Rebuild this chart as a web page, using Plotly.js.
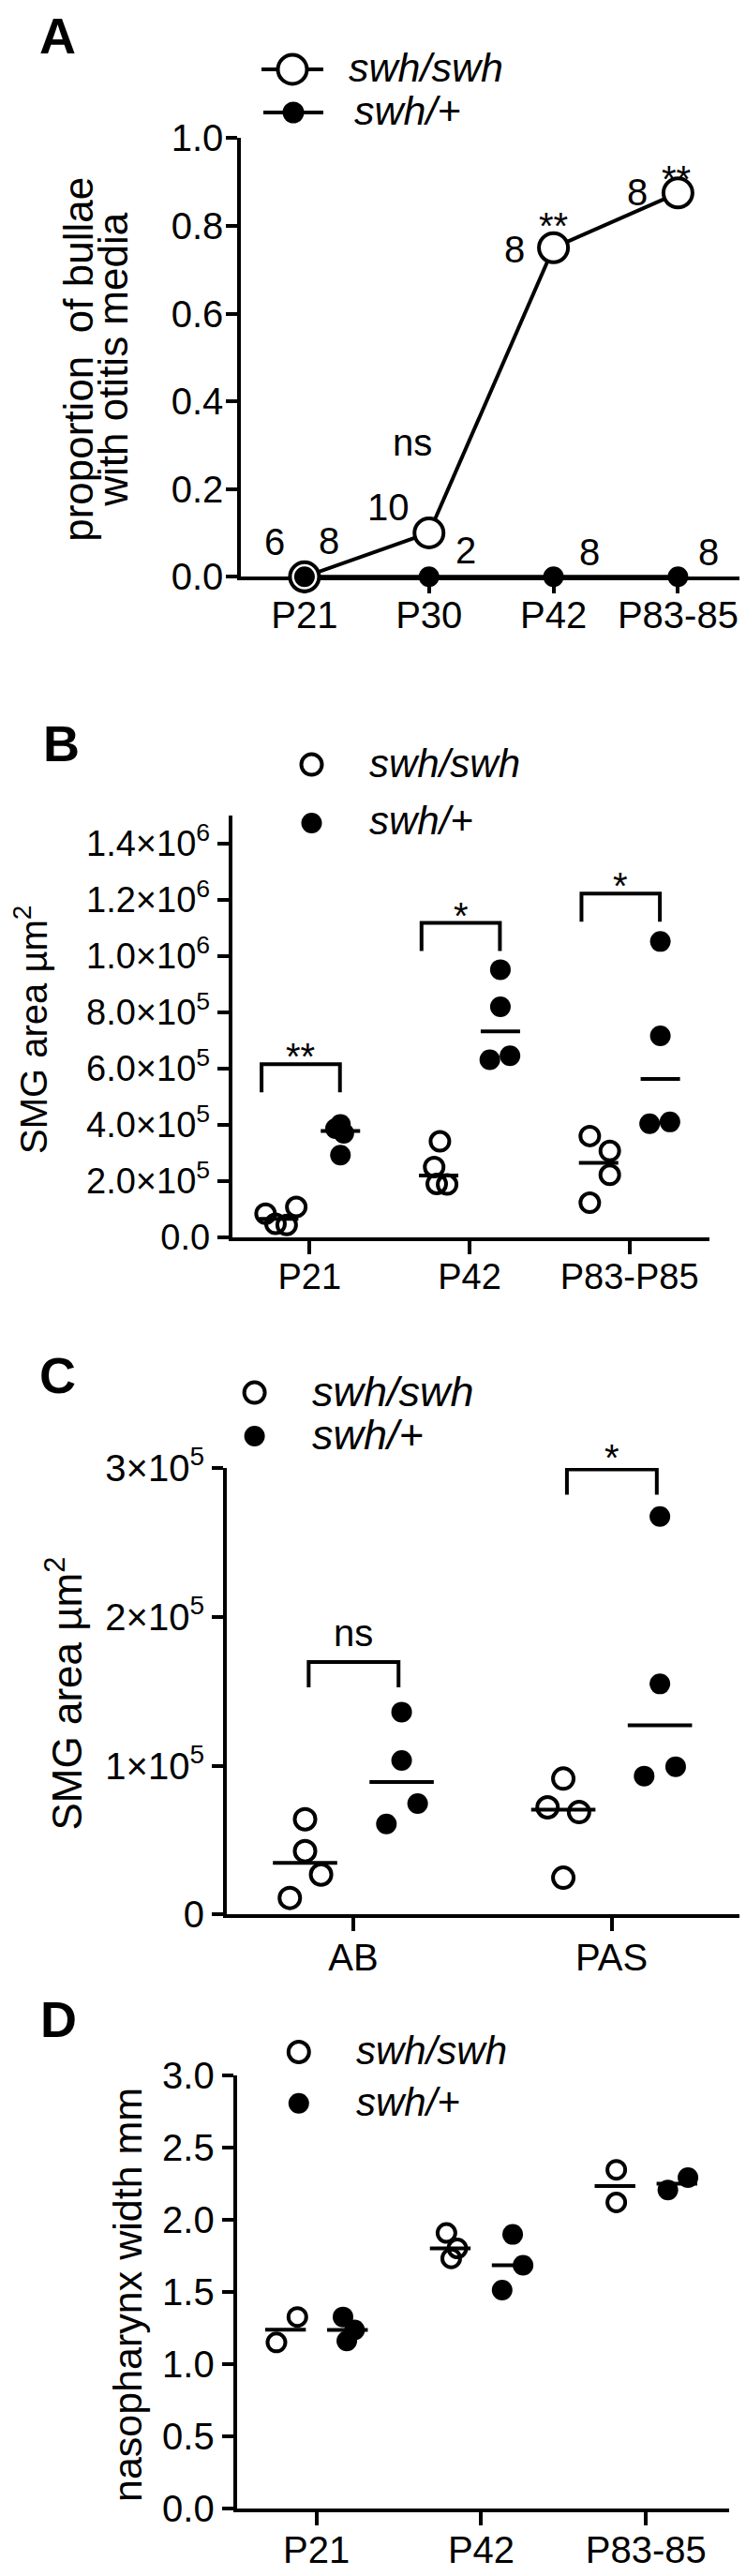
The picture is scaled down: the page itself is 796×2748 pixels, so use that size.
<!DOCTYPE html>
<html><head><meta charset="utf-8">
<script src="https://cdn.plot.ly/plotly-3.0.1.min.js"></script>
<style>html,body{margin:0;padding:0;background:#fff}#chart{width:796px;height:2748px}</style>
</head><body><div id="chart"></div>
<script>
// ================= DATA =================
// Panel A : proportion of bullae with otitis media
const catsA = ['P21', 'P30', 'P42', 'P83-85'];
const omSwhSwh = [0, 0.1, 0.75, 0.875];
const omSwhHet = [0, 0, 0, 0];
const nSwhSwh = [6, 10, 8, 8];
const nSwhHet = [8, 2, 8, 8];
const sigA = ['', 'ns', '**', '**'];
const yTickValsA = [0, 0.2, 0.4, 0.6, 0.8, 1.0];
const yTickTextA = ['0.0', '0.2', '0.4', '0.6', '0.8', '1.0'];

// Panel B : SMG area (um^2) by age
const catsB = ['P21', 'P42', 'P83-P85'];
const smgB_swhSwh = [[84000, 108000, 48000, 44000], [341000, 250000, 190000, 188000], [360000, 307000, 222000, 123000]];
const smgB_swhHet = [[401000, 386000, 370000, 292000], [951000, 819000, 631000, 645000], [1051000, 716000, 404000, 410000]];
const sigB = ['**', '*', '*'];
const yTickValsB = [0, 2e5, 4e5, 6e5, 8e5, 1e6, 1.2e6, 1.4e6];
const yTickTextB = ['0.0', '2.0×10<sup>5</sup>', '4.0×10<sup>5</sup>', '6.0×10<sup>5</sup>', '8.0×10<sup>5</sup>',
                    '1.0×10<sup>6</sup>', '1.2×10<sup>6</sup>', '1.4×10<sup>6</sup>'];

// Panel C : SMG area (um^2) by stain
const catsC = ['AB', 'PAS'];
const smgC_swhSwh = [[64000, 42600, 26800, 11100], [91300, 72000, 68800, 24700]];
const smgC_swhHet = [[136000, 103500, 74500, 60800], [267400, 154900, 99300, 93000]];
const sigC = ['ns', '*'];
const yTickValsC = [0, 1e5, 2e5, 3e5];
const yTickTextC = ['0', '1×10<sup>5</sup>', '2×10<sup>5</sup>', '3×10<sup>5</sup>'];

// Panel D : nasopharynx width (mm)
const catsD = ['P21', 'P42', 'P83-85'];
const npD_swhSwh = [[1.149, 1.326], [1.908, 1.801, 1.732], [2.346, 2.120]];
const npD_swhHet = [[1.326, 1.236, 1.160], [1.898, 1.684, 1.512], [2.206, 2.292]];
const yTickValsD = [0, 0.5, 1.0, 1.5, 2.0, 2.5, 3.0];
const yTickTextD = ['0.0', '0.5', '1.0', '1.5', '2.0', '2.5', '3.0'];

// ================= LAYOUT HELPERS (positions / styles) =================
const W = 796, H = 2748;
const FONT = 'Liberation Sans, Arial, Helvetica, sans-serif';
const PX = x => x / W;
const PY = y => 1 - y / H;
const BLACK = '#000';

// horizontal scatter of each point within its group (category units)
const jitB_swhSwh = [[-0.082, 0.11, -0.02, 0.05], [0.008, -0.028, -0.012, 0.053], [-0.055, 0.07, 0.07, -0.055]];
const jitB_swhHet = [[0, -0.031, 0.021, 0], [0, 0, -0.066, 0.06], [0, 0, -0.067, 0.06]];
const jitC_swhSwh = [[0, 0, 0.062, -0.059], [0, -0.061, 0.061, 0]];
const jitC_swhHet = [[0, 0, 0.062, -0.059], [0, 0, 0.061, -0.061]];
const jitD_swhSwh = [[-0.055, 0.072], [-0.023, 0.043, 0.006], [0.008, 0.008]];
const jitD_swhHet = [[-0.027, 0.043, -0.004], [0.003, 0.066, -0.061], [-0.055, 0.067]];

function median(a) {
  const s = a.slice().sort((p, q) => p - q), m = s.length >> 1;
  return s.length % 2 ? s[m] : (s[m - 1] + s[m]) / 2;
}

function xax(d0, d1, range, cats, anchor, standoff, fsize) {
  return {domain: [PX(d0), PX(d1)], range: range, anchor: anchor,
    tickmode: 'array', tickvals: cats.map((_, i) => i), ticktext: cats,
    showline: true, linewidth: 4, linecolor: BLACK, ticks: 'outside', ticklen: 14, tickwidth: 4, tickcolor: BLACK,
    ticklabelstandoff: standoff,
    showgrid: false, zeroline: false, layer: 'below traces', fixedrange: true,
    tickfont: {family: FONT, size: fsize, color: BLACK}};
}
function yax(top, bottom, range, vals, text, anchor, standoff, fsize) {
  return {domain: [PY(bottom), PY(top)], range: range, anchor: anchor,
    tickmode: 'array', tickvals: vals, ticktext: text,
    showline: true, linewidth: 4, linecolor: BLACK, ticks: 'outside', ticklen: 12, tickwidth: 4, tickcolor: BLACK,
    ticklabelstandoff: standoff,
    showgrid: false, zeroline: false, layer: 'below traces', fixedrange: true,
    tickfont: {family: FONT, size: fsize, color: BLACK}};
}

const traces = [];
const annotations = [];
const shapes = [];

// ---------- Panel A ----------
const xA = catsA.map((_, i) => i);
traces.push({x: xA, y: omSwhHet, xaxis: 'x', yaxis: 'y', mode: 'lines', cliponaxis: false,
  line: {color: BLACK, width: 4}, showlegend: false, hoverinfo: 'skip'});
traces.push({x: xA, y: omSwhSwh, xaxis: 'x', yaxis: 'y', mode: 'lines+markers', cliponaxis: false,
  line: {color: BLACK, width: 4}, marker: {symbol: 'circle', size: 31, color: '#fff', line: {color: BLACK, width: 4}},
  showlegend: false, hoverinfo: 'skip'});
traces.push({x: xA, y: omSwhHet, xaxis: 'x', yaxis: 'y', mode: 'markers', cliponaxis: false,
  marker: {symbol: 'circle', size: 22, color: BLACK}, showlegend: false, hoverinfo: 'skip'});

const nShiftSwh = [[-32, 37], [-43, 28], [-42, -2], [-43, 1]];
const nShiftHet = [[26, 38], [39, 28], [38, 26], [33, 26]];
const sigShiftA = [[0, 0], [-18, 97], [0, 23], [-2, 15]];
catsA.forEach((c, i) => {
  annotations.push({xref: 'x', yref: 'y', x: i, y: omSwhSwh[i], text: String(nSwhSwh[i]), showarrow: false,
    xshift: nShiftSwh[i][0], yshift: nShiftSwh[i][1], font: {family: FONT, size: 40, color: BLACK}});
  annotations.push({xref: 'x', yref: 'y', x: i, y: omSwhHet[i], text: String(nSwhHet[i]), showarrow: false,
    xshift: nShiftHet[i][0], yshift: nShiftHet[i][1], font: {family: FONT, size: 40, color: BLACK}});
  if (sigA[i]) annotations.push({xref: 'x', yref: 'y', x: i, y: omSwhSwh[i], text: sigA[i], showarrow: false,
    xshift: sigShiftA[i][0], yshift: sigShiftA[i][1], font: {family: FONT, size: 40, color: BLACK}});
});

// ---------- dot-plot panels (points + median lines) ----------
function dotPanel(ax, cats, swh, het, jSwh, jHet, off, openSize, medSize) {
  const xs = [], ys = [], xh = [], yh = [];
  cats.forEach((c, i) => {
    swh[i].forEach((v, k) => { xs.push(i - off + jSwh[i][k]); ys.push(v); });
    het[i].forEach((v, k) => { xh.push(i + off + jHet[i][k]); yh.push(v); });
  });
  const xa = 'x' + ax, ya = 'y' + ax;
  traces.push({x: xs, y: ys, xaxis: xa, yaxis: ya, mode: 'markers', cliponaxis: false, showlegend: false, hoverinfo: 'skip',
    name: 'swh/swh', marker: {symbol: 'circle-open', size: openSize, color: BLACK, line: {color: BLACK, width: 4}}});
  traces.push({x: xh, y: yh, xaxis: xa, yaxis: ya, mode: 'markers', cliponaxis: false, showlegend: false, hoverinfo: 'skip',
    name: 'swh/+', marker: {symbol: 'circle', size: 22, color: BLACK, line: {width: 0}}});
  traces.push({x: cats.map((_, i) => i - off), y: swh.map(median), xaxis: xa, yaxis: ya, mode: 'markers', cliponaxis: false,
    showlegend: false, hoverinfo: 'skip', marker: {symbol: 'line-ew', size: medSize, color: BLACK, line: {color: BLACK, width: 4}}});
  traces.push({x: cats.map((_, i) => i + off), y: het.map(median), xaxis: xa, yaxis: ya, mode: 'markers', cliponaxis: false,
    showlegend: false, hoverinfo: 'skip', marker: {symbol: 'line-ew', size: medSize, color: BLACK, line: {color: BLACK, width: 4}}});
}
dotPanel('2', catsB, smgB_swhSwh, smgB_swhHet, jitB_swhSwh, jitB_swhHet, 0.193, 20, 30);
dotPanel('3', catsC, smgC_swhSwh, smgC_swhHet, jitC_swhSwh, jitC_swhHet, 0.187, 22, 49);
dotPanel('4', catsD, npD_swhSwh, npD_swhHet, jitD_swhSwh, jitD_swhHet, 0.188, 19, 31);

// significance brackets
function brackets(ax, sig, legL, legR, tops, legLen, textShift) {
  sig.forEach((s, i) => {
    const x0 = i + legL, x1 = i + legR, yt = tops[i], yb = tops[i] - legLen;
    shapes.push({type: 'path', xref: 'x' + ax, yref: 'y' + ax, line: {color: BLACK, width: 4},
      path: `M${x0},${yb} L${x0},${yt} L${x1},${yt} L${x1},${yb}`});
    annotations.push({xref: 'x' + ax, yref: 'y' + ax, x: (x0 + x1) / 2, y: yt, text: s, showarrow: false,
      yshift: textShift[i], font: {family: FONT, size: 40, color: BLACK}});
  });
}
brackets('2', sigB, -0.3, 0.19, [615000, 1117000, 1221000], 100000, [8, 8, 8]);
brackets('3', sigC, -0.173, 0.175, [169600, 299000], 17000, [31, 13]);

// ---------- axes ----------
const layout = {
  width: W, height: H, autosize: false,
  margin: {l: 0, r: 0, t: 0, b: 0, pad: 0},
  paper_bgcolor: '#fff', plot_bgcolor: 'rgba(0,0,0,0)',
  showlegend: false,
  font: {family: FONT, size: 40, color: BLACK},
  xaxis: xax(257.3, 789.3, [-0.509, 3.496], catsA, 'y', -11, 40),
  yaxis: yax(147.3, 615.3, [0, 1], yTickValsA, yTickTextA, 'x', -5, 40),
  xaxis2: xax(247.7, 757, [-0.484, 2.5], catsB, 'y2', -9, 38),
  yaxis2: yax(869.5, 1320, [0, 1.5e6], yTickValsB, yTickTextB, 'x2', 0, 38),
  xaxis3: xax(242, 789, [-0.49, 1.495], catsC, 'y3', -6, 40),
  yaxis3: yax(1566, 2042.3, [0, 3e5], yTickValsC, yTickTextC, 'x3', 0, 40),
  xaxis4: xax(252.7, 777.5, [-0.4835, 2.502], catsD, 'y4', -8, 40),
  yaxis4: yax(2214, 2675.7, [0, 3], yTickValsD, yTickTextD, 'x4', 0, 40),
  annotations: annotations,
  shapes: shapes
};

// ---------- axis titles & panel letters ----------
function ptext(x, y, text, size, opts) {
  annotations.push(Object.assign({xref: 'paper', yref: 'paper', x: PX(x), y: PY(y), text: text, showarrow: false,
    xanchor: 'center', yanchor: 'middle', font: {family: FONT, size: size, color: BLACK}}, opts || {}));
}
ptext(82.8, 383, 'proportion  of bullae', 44, {textangle: -90});
ptext(119.8, 383, 'with otitis media', 44, {textangle: -90});
ptext(33, 1099, 'SMG area µm<sup>2</sup>', 40, {textangle: -90});
ptext(67.5, 1807, 'SMG area µm<sup>2</sup>', 44, {textangle: -90});
ptext(136, 2448, 'nasopharynx width mm', 43, {textangle: -90});

ptext(61, 38, '<b>A</b>', 54);
ptext(65, 793, '<b>B</b>', 54);
ptext(61, 1467, '<b>C</b>', 54);
ptext(62, 2154, '<b>D</b>', 54);

// ---------- legends (symbols + italic labels) ----------
function circ(cx, cy, r, fill, lw) {
  shapes.push({type: 'circle', xref: 'paper', yref: 'paper', xsizemode: 'pixel', ysizemode: 'pixel',
    xanchor: PX(cx), yanchor: PY(cy), x0: -r, x1: r, y0: -r, y1: r,
    fillcolor: fill, line: {color: BLACK, width: lw}});
}
function hline(x0, x1, y) {
  shapes.push({type: 'line', xref: 'paper', yref: 'paper', x0: PX(x0), x1: PX(x1), y0: PY(y), y1: PY(y),
    line: {color: BLACK, width: 4}});
}
function legText(x, y, t, size) {
  ptext(x, y, '<i>' + t + '</i>', size, {xanchor: 'left'});
}
// A
hline(279, 345, 74); circ(312, 74, 15.5, '#fff', 4); legText(370, 72, 'swh/swh', 43);
hline(281, 345, 120); circ(313, 120, 11.5, BLACK, 0); legText(376, 118, 'swh/+', 43);
// B
circ(332.5, 815.6, 11, 'rgba(0,0,0,0)', 4); legText(392, 814, 'swh/swh', 42);
circ(332.5, 878, 11, BLACK, 0); legText(392, 876, 'swh/+', 42);
// C
circ(271.6, 1485.6, 11, 'rgba(0,0,0,0)', 4); legText(331, 1484, 'swh/swh', 45);
circ(271.6, 1532, 11, BLACK, 0); legText(331, 1530, 'swh/+', 45);
// D
circ(318.8, 2189, 11, 'rgba(0,0,0,0)', 4); legText(378, 2187, 'swh/swh', 42);
circ(318.8, 2243.7, 11, BLACK, 0); legText(378, 2242, 'swh/+', 42);

Plotly.newPlot('chart', traces, layout, {staticPlot: true, responsive: false});
</script>
</body></html>
